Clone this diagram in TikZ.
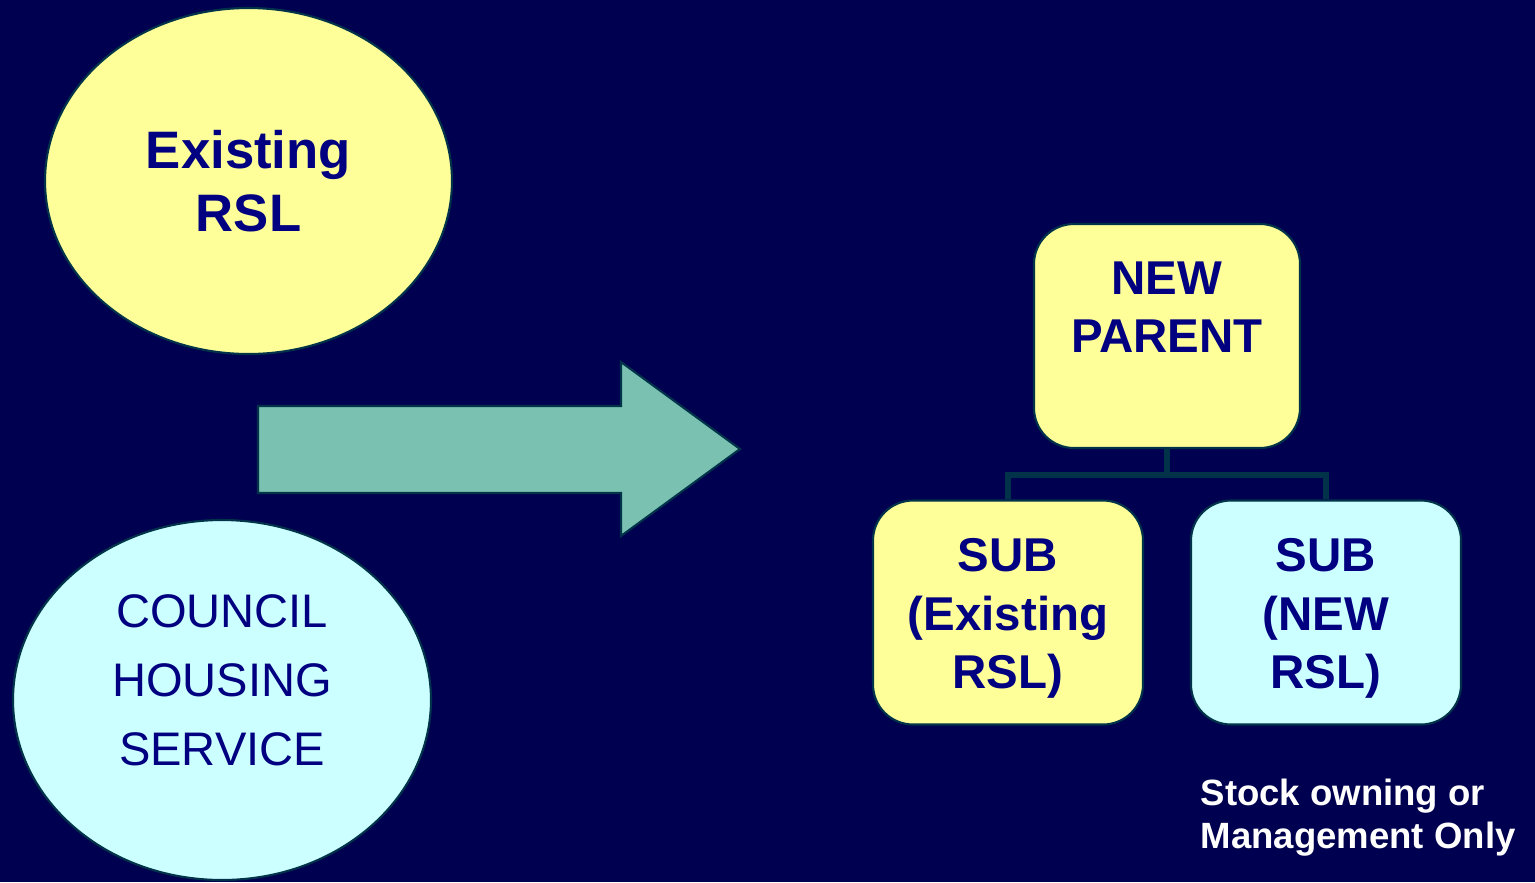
\documentclass[tikz,border=0pt]{standalone}
\usepackage{fontspec}
\setmainfont{Liberation Sans}
\usetikzlibrary{shapes,arrows,positioning,calc}

\definecolor{navybg}{HTML}{000050}
\definecolor{paleyellow}{HTML}{FFFF99}
\definecolor{palecyan}{HTML}{CCFFFF}
\definecolor{arrowteal}{HTML}{7AC1B2}
\definecolor{edgeteal}{HTML}{00334A}
\definecolor{inkblue}{HTML}{000080}

\begin{document}
\begin{tikzpicture}[
    ellip/.style={ellipse, draw=edgeteal, line width=0.6pt},
    rbox/.style={rectangle, rounded corners=0.4cm, draw=edgeteal, line width=0.6pt,
        minimum width=2.7cm, minimum height=2.24cm},
    lbl/.style={text=inkblue, align=center, font=\bfseries\fontsize{13.5}{16.6}\selectfont},
    conn/.style={draw=edgeteal, line width=1.5pt}
]
    % Background
    \fill[navybg] (0,0) rectangle (15.35,8.82);
    \useasboundingbox (0,0) rectangle (15.35,8.82);

    % Ellipses on the left
    \node[ellip, fill=paleyellow, minimum width=4.07cm, minimum height=3.46cm] (rsl) at (2.485,7.01) {};
    \node[text=inkblue, align=center, font=\bfseries\fontsize{15}{17.9}\selectfont] (rsltxt) at (rsl.center) {Existing\\RSL};
    \node[ellip, fill=palecyan, minimum width=4.18cm, minimum height=3.6cm] (council) at (2.22,1.82) {};
    \node[text=inkblue, align=center, font=\fontsize{13.4}{19.6}\selectfont] (counciltxt) at ([yshift=0.2cm]council.center) {COUNCIL\\HOUSING\\SERVICE};

    % Big arrow
    \fill[arrowteal, draw=edgeteal, line width=0.6pt]
        (2.58,4.76) -- (6.21,4.76) -- (6.21,5.20) -- (7.40,4.33)
        -- (6.21,3.46) -- (6.21,3.89) -- (2.58,3.89) -- cycle;

    % Group structure
    \node[rbox, fill=paleyellow, minimum width=2.66cm] (parent) at (11.67,5.46) {};
    \node[lbl] (parenttxt) at ([yshift=0.29cm]parent.center) {NEW\\PARENT};
    \node[rbox, fill=paleyellow] (subold) at (10.08,2.695) {};
    \node[lbl] (suboldtxt) at ([yshift=-0.06cm]subold.center) {SUB\\(Existing\\RSL)};
    \node[rbox, fill=palecyan] (subnew) at (13.26,2.695) {};
    \node[lbl] (subnewtxt) at ([yshift=-0.06cm]subnew.center) {SUB\\(NEW\\RSL)};

    \coordinate (joint) at ($(parent.south)+(0,-0.26)$);
    \draw[conn] (parent.south) -- (joint);
    \draw[conn] (joint) -| (subold.north);
    \draw[conn] (joint) -| (subnew.north);

    % Note
    \node[anchor=west, align=left, inner sep=0pt, text=white, font=\bfseries\fontsize{10.4}{12.2}\selectfont] (note) at (12.0,0.645) {Stock owning or\\Management Only};
\end{tikzpicture}
\end{document}
